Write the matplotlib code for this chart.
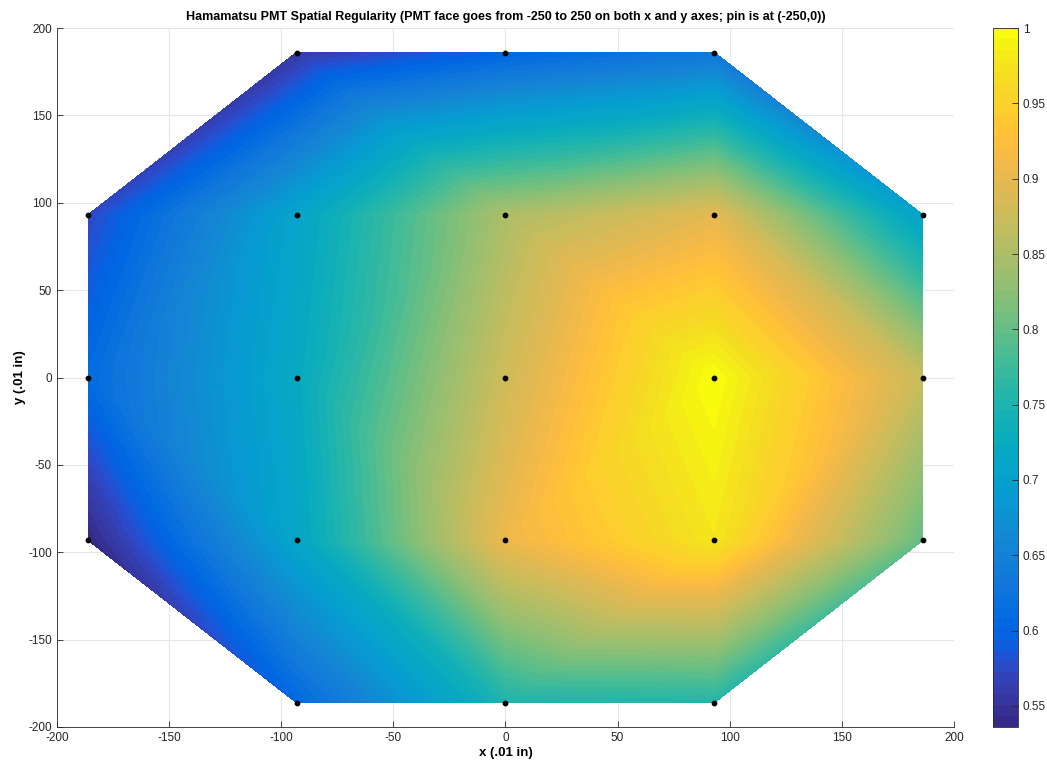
import numpy as np
import matplotlib
matplotlib.use("Agg")
import matplotlib.pyplot as plt
import matplotlib.tri as mtri
from matplotlib.colors import ListedColormap

plt.rcParams['font.family'] = ['Liberation Sans', 'DejaVu Sans']
plt.rcParams['axes.unicode_minus'] = False

# Measurement positions (.01 in) and normalized response
x_pos = [-93, 0, 93,
         -186, -93, 0, 93, 186,
         -186, -93, 0, 93, 186,
         -186, -93, 0, 93, 186,
         -93, 0, 93]
y_pos = [186, 186, 186,
         93, 93, 93, 93, 93,
         0, 0, 0, 0, 0,
         -93, -93, -93, -93, -93,
         -186, -186, -186]
response = [0.555, 0.600, 0.630,
            0.573, 0.708, 0.850, 0.897, 0.700,
            0.610, 0.720, 0.878, 1.000, 0.872,
            0.536, 0.710, 0.905, 0.977, 0.800,
            0.605, 0.750, 0.755]

title = "Hamamatsu PMT Spatial Regularity (PMT face goes from -250 to 250 on both x and y axes; pin is at (-250,0))"
ticks = [-200, -150, -100, -50, 0, 50, 100, 150, 200]
cbar_ticks = [0.55, 0.6, 0.65, 0.7, 0.75, 0.8, 0.85, 0.9, 0.95, 1.0]
cbar_labels = ['0.55', '0.6', '0.65', '0.7', '0.75', '0.8', '0.85', '0.9', '0.95', '1']

parula_data = [[0.2081, 0.1663, 0.5292], [0.2116238095, 0.1897809524, 0.5776761905], [0.212252381, 0.2137714286, 0.6269714286], [0.2081, 0.2386, 0.6770857143], [0.1959047619, 0.2644571429, 0.7279], [0.1707285714, 0.2919380952, 0.779247619], [0.1252714286, 0.3242428571, 0.8302714286], [0.0591333333, 0.3598333333, 0.8683333333], [0.0116952381, 0.3875095238, 0.8819571429], [0.0059571429, 0.4086142857, 0.8828428571], [0.0165142857, 0.4266, 0.8786333333], [0.032852381, 0.4430428571, 0.8719571429], [0.0498142857, 0.4585714286, 0.8640571429], [0.0629333333, 0.4736904762, 0.8554380952], [0.0722666667, 0.4886666667, 0.8467], [0.0779428571, 0.5039857143, 0.8383714286], [0.079347619, 0.5200238095, 0.8311809524], [0.0749428571, 0.5375428571, 0.8262714286], [0.0640571429, 0.5569857143, 0.8239571429], [0.0487714286, 0.5772238095, 0.8228285714], [0.0343428571, 0.5965809524, 0.819852381], [0.0265, 0.6137, 0.8135], [0.0238904762, 0.6286619048, 0.8037619048], [0.0230904762, 0.6417857143, 0.7912666667], [0.0227714286, 0.6534857143, 0.7767571429], [0.0266619048, 0.6641952381, 0.7607190476], [0.0383714286, 0.6742714286, 0.743552381], [0.0589714286, 0.6837571429, 0.7253857143], [0.0843, 0.6928333333, 0.7061666667], [0.1132952381, 0.7015, 0.6858571429], [0.1452714286, 0.7097571429, 0.6646285714], [0.1801333333, 0.7176571429, 0.6424333333], [0.2178285714, 0.7250428571, 0.6192619048], [0.2586428571, 0.7317142857, 0.5954285714], [0.3021714286, 0.7376047619, 0.5711857143], [0.3481666667, 0.7424333333, 0.5472666667], [0.3952571429, 0.7459, 0.5244428571], [0.4420095238, 0.7480809524, 0.5033142857], [0.4871238095, 0.7490619048, 0.4839761905], [0.5300285714, 0.7491142857, 0.4661142857], [0.5708571429, 0.7485190476, 0.4493904762], [0.609852381, 0.7473142857, 0.4336857143], [0.6473, 0.7456, 0.4188], [0.6834190476, 0.7434761905, 0.4044333333], [0.7184095238, 0.7411333333, 0.3904761905], [0.7524857143, 0.7384, 0.3768142857], [0.7858428571, 0.7355666667, 0.3632714286], [0.8185047619, 0.7327333333, 0.3497904762], [0.8506571429, 0.7299, 0.3360285714], [0.8824333333, 0.7274333333, 0.3217], [0.9139333333, 0.7257857143, 0.3062761905], [0.9449571429, 0.7261142857, 0.2886428571], [0.9738952381, 0.7313952381, 0.266647619], [0.9937714286, 0.7454571429, 0.240347619], [0.9990428571, 0.7653142857, 0.2164142857], [0.9955333333, 0.7860571429, 0.196652381], [0.988, 0.8066, 0.1793666667], [0.9788571429, 0.8271428571, 0.1633142857], [0.9697, 0.8481380952, 0.147452381], [0.9625857143, 0.8705142857, 0.1309], [0.9588714286, 0.8949, 0.1132428571], [0.9598238095, 0.9218333333, 0.0948380952], [0.9661, 0.9514428571, 0.0755333333], [0.9763, 0.9831, 0.0538]]
parula = ListedColormap(parula_data, name='parula')

x = np.array(x_pos, float)
y = np.array(y_pos, float)
z = np.array(response, float)
vmin, vmax = z.min(), z.max()

fig = plt.figure(figsize=(10.47, 7.68), dpi=100)
ax = fig.add_axes([0.0544, 0.0534, 0.8567, 0.910])
cax = fig.add_axes([0.9484, 0.0534, 0.0239, 0.910])

tri = mtri.Triangulation(x, y)
levels = np.linspace(vmin, vmax, 65)
cs = ax.tricontourf(tri, z, levels=levels, cmap=parula, vmin=vmin, vmax=vmax)
cs.set_edgecolor('face')
cs.set_linewidth(0.5)
ax.scatter(x, y, s=10, c='black', zorder=5)

ax.set_xlim(-200, 200)
ax.set_ylim(-200, 200)
ax.set_xticks(ticks)
ax.set_yticks(ticks)
ax.grid(True, color='#e6e6e6', linewidth=0.8)
ax.set_axisbelow(True)
for side in ['top', 'right']:
    ax.spines[side].set_visible(False)
for side in ['left', 'bottom']:
    ax.spines[side].set_color('#262626')
    ax.spines[side].set_linewidth(0.6)
ax.tick_params(direction='in', length=4, width=0.6, colors='#262626', labelsize=8.5)
ax.set_title(title, fontsize=9, fontweight='bold', color='black', pad=6)
ax.set_xlabel('x (.01 in)', fontsize=9.5, fontweight='bold', labelpad=2)
ax.set_ylabel('y (.01 in)', fontsize=9.5, fontweight='bold', labelpad=2)

sm = plt.cm.ScalarMappable(cmap=parula, norm=plt.Normalize(vmin, vmax))
cb = fig.colorbar(sm, cax=cax)
cb.set_ticks(cbar_ticks)
cb.set_ticklabels(cbar_labels)
cb.ax.tick_params(direction='in', length=4, width=0.6, colors='#262626', labelsize=8.5)
cb.outline.set_edgecolor('#262626')
cb.outline.set_linewidth(0.6)

fig.savefig('out.png', dpi=100)
